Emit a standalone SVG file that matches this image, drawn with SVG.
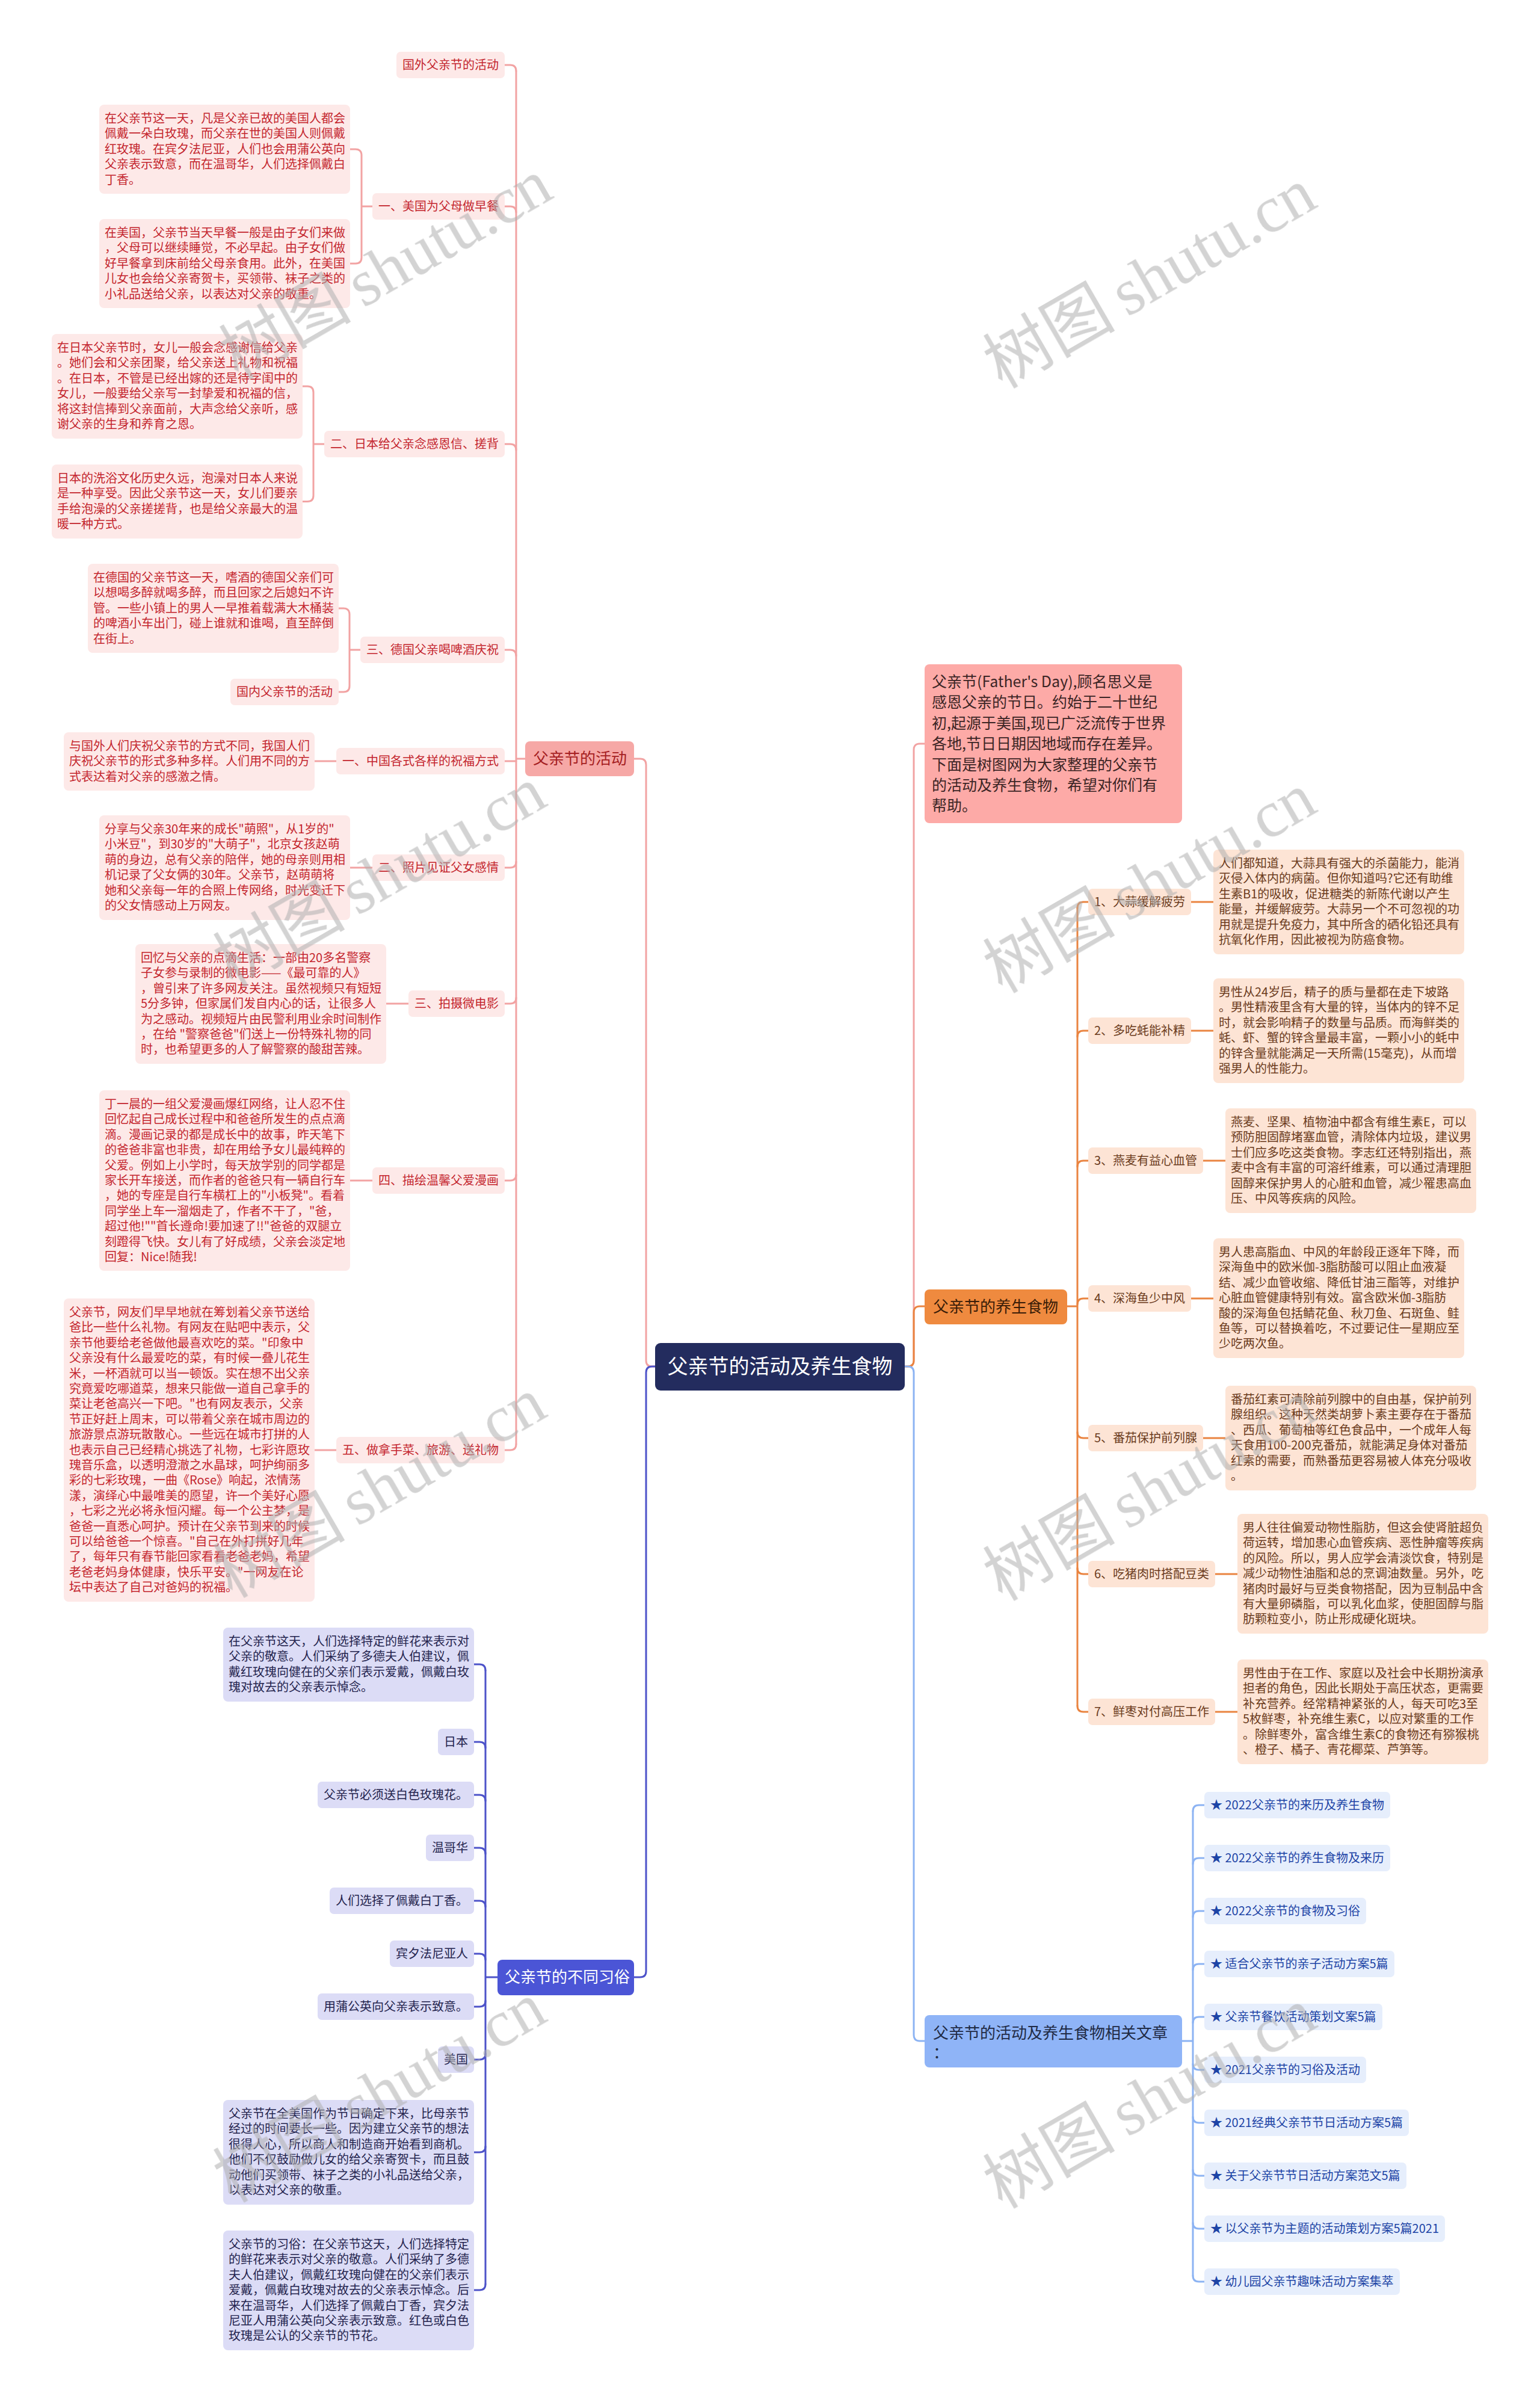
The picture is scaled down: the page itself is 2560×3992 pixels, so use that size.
<svg xmlns="http://www.w3.org/2000/svg" width="2560" height="3992" viewBox="0 0 2560 3992">
<style>
.t{font-family:"Noto Sans CJK SC","Noto Sans",sans-serif;font-size:20px}
.lr{fill:#c4262e}.rb{fill:#6b3b1c}.bl{fill:#24244e}.ar{fill:#1d44a6}
.pk{fill:#fde9e8}.pe{fill:#fde4d5}.lv{fill:#dcdcf6}.ab{fill:#e6eefc}
.c{fill:none;stroke-width:3;stroke-linecap:round}
.cp{stroke:#f2a3a3}.co{stroke:#ea8440}.cb{stroke:#4d53c9}.ca{stroke:#8cb3f3}
.m{font-family:"Noto Sans CJK SC","Noto Sans",sans-serif;font-size:26px}
.wm{font-size:110px;fill:#b0b0b0;opacity:0.55}
</style>
<rect width="2560" height="3992" fill="#ffffff"/>

<g id="connectors">
<!-- center to main -->
<path class="c cp" d="M1089 2271 H1084 Q1074 2271 1074 2261 V1271 Q1074 1261 1064 1261 H1054"/>
<path class="c cb" d="M1089 2271 H1084 Q1074 2271 1074 2281 V3276 Q1074 3286 1064 3286 H1054"/>
<path class="c cp" d="M1504 2271 H1509 Q1519 2271 1519 2261 V1246 Q1519 1236 1529 1236 H1537"/>
<path class="c co" d="M1504 2271 H1509 Q1519 2271 1519 2261 V2181 Q1519 2171 1529 2171 H1537"/>
<path class="c ca" d="M1504 2271 H1509 Q1519 2271 1519 2281 V3382 Q1519 3392 1529 3392 H1537"/>
<!-- left branch trunk -->
<path class="c cp" d="M873 1261 H858 M858 118 V2400"/>
<path class="c cp" d="M839 108 H848 Q858 108 858 118"/>
<path class="c cp" d="M839 343 H848 Q858 343 858 353"/>
<path class="c cp" d="M839 738 H848 Q858 738 858 748"/>
<path class="c cp" d="M839 1080 H848 Q858 1080 858 1090"/>
<path class="c cp" d="M839 1265 H858"/>
<path class="c cp" d="M839 1442 H848 Q858 1442 858 1432"/>
<path class="c cp" d="M839 1668 H848 Q858 1668 858 1658"/>
<path class="c cp" d="M839 1962 H848 Q858 1962 858 1952"/>
<path class="c cp" d="M839 2410 H848 Q858 2410 858 2400"/>
<!-- left leaves -->
<path class="c cp" d="M582 248 H591 Q601 248 601 258 V428 Q601 438 591 438 H582 M601 343 H619"/>
<path class="c cp" d="M503 642 H511 Q521 642 521 652 V823.5 Q521 833.5 511 833.5 H503 M521 738 H539"/>
<path class="c cp" d="M563 1011 H571 Q581 1011 581 1021 V1140 Q581 1150 571 1150 H563 M581 1080 H599"/>
<path class="c cp" d="M523 1265 H559"/>
<path class="c cp" d="M582 1442 H619"/>
<path class="c cp" d="M642 1668 H679"/>
<path class="c cp" d="M582 1962 H619"/>
<path class="c cp" d="M523 2410 H559"/>
<!-- food branch -->
<path class="c co" d="M1774 2171 H1791 M1791 1509 V2835"/>
<path class="c co" d="M1809 1499 H1801 Q1791 1499 1791 1509"/>
<path class="c co" d="M1809 1713 H1801 Q1791 1713 1791 1723"/>
<path class="c co" d="M1809 1929 H1801 Q1791 1929 1791 1939"/>
<path class="c co" d="M1809 2158 H1801 Q1791 2158 1791 2168"/>
<path class="c co" d="M1809 2390 H1801 Q1791 2390 1791 2380"/>
<path class="c co" d="M1809 2616 H1801 Q1791 2616 1791 2606"/>
<path class="c co" d="M1809 2845 H1801 Q1791 2845 1791 2835"/>
<path class="c co" d="M1980 1499 H2017 M1980 1713 H2017 M2000 1929 H2037 M1980 2158 H2017 M2000 2390 H2037 M2020 2616 H2057 M2020 2845 H2057"/>
<!-- articles branch -->
<path class="c ca" d="M1965 3392 H1983 M1983 3010 V3782"/>
<path class="c ca" d="M2002 3000 H1993 Q1983 3000 1983 3010"/>
<path class="c ca" d="M2002 3088 H1993 Q1983 3088 1983 3098"/>
<path class="c ca" d="M2002 3176 H1993 Q1983 3176 1983 3186"/>
<path class="c ca" d="M2002 3264 H1993 Q1983 3264 1983 3274"/>
<path class="c ca" d="M2002 3352 H1993 Q1983 3352 1983 3362"/>
<path class="c ca" d="M2002 3440 H1993 Q1983 3440 1983 3430"/>
<path class="c ca" d="M2002 3528 H1993 Q1983 3528 1983 3518"/>
<path class="c ca" d="M2002 3616 H1993 Q1983 3616 1983 3606"/>
<path class="c ca" d="M2002 3704 H1993 Q1983 3704 1983 3694"/>
<path class="c ca" d="M2002 3792 H1993 Q1983 3792 1983 3782"/>
<!-- customs branch -->
<path class="c cb" d="M827 3286 H807 M807 2776 V3796"/>
<path class="c cb" d="M788 2766 H797 Q807 2766 807 2776"/>
<path class="c cb" d="M788 2895 H797 Q807 2895 807 2905"/>
<path class="c cb" d="M788 2983 H797 Q807 2983 807 2993"/>
<path class="c cb" d="M788 3071 H797 Q807 3071 807 3081"/>
<path class="c cb" d="M788 3159 H797 Q807 3159 807 3169"/>
<path class="c cb" d="M788 3247 H797 Q807 3247 807 3257"/>
<path class="c cb" d="M788 3335 H797 Q807 3335 807 3325"/>
<path class="c cb" d="M788 3423 H797 Q807 3423 807 3413"/>
<path class="c cb" d="M788 3577 H797 Q807 3577 807 3567"/>
<path class="c cb" d="M788 3806 H797 Q807 3806 807 3796"/>
</g>

<!-- center -->
<g id="center">
<rect x="1089" y="2232" width="415" height="79" rx="9" fill="#232c5e"/>
<text x="1296.5" y="2283" text-anchor="middle" font-family="Noto Sans CJK SC, Noto Sans, sans-serif" font-size="34" fill="#ffffff">父亲节的活动及养生食物</text>
</g>

<!-- main nodes -->
<g id="main-activities">
<rect x="873" y="1232" width="181" height="58" rx="8" fill="#f6a8a6"/>
<text class="m" x="886" y="1270" fill="#a51e22">父亲节的活动</text>
</g>
<g id="main-customs">
<rect x="827" y="3257" width="227" height="59" rx="8" fill="#4b55d6"/>
<text class="m" x="839" y="3295" fill="#ffffff">父亲节的不同习俗</text>
</g>
<g id="main-intro">
<rect x="1537" y="1104" width="428" height="264" rx="8" fill="#fdaaa7"/>
<text x="1549" y="1142" font-family="Noto Sans CJK SC, Noto Sans, sans-serif" font-size="25" fill="#3b2525"><tspan x="1549">父亲节(Father's Day),顾名思义是</tspan><tspan x="1549" dy="34.4">感恩父亲的节日。约始于二十世纪</tspan><tspan x="1549" dy="34.4">初,起源于美国,现已广泛流传于世界</tspan><tspan x="1549" dy="34.4">各地,节日日期因地域而存在差异。</tspan><tspan x="1549" dy="34.4">下面是树图网为大家整理的父亲节</tspan><tspan x="1549" dy="34.4">的活动及养生食物，希望对你们有</tspan><tspan x="1549" dy="34.4">帮助。</tspan></text>
</g>
<g id="main-food">
<rect x="1537" y="2143" width="237" height="58" rx="8" fill="#ef8a3f"/>
<text class="m" x="1551" y="2181" fill="#3a1d08">父亲节的养生食物</text>
</g>
<g id="main-articles">
<rect x="1537" y="3349" width="428" height="87" rx="8" fill="#8fb4f7"/>
<text class="m" x="1551" y="3388" fill="#1f2a44"><tspan x="1551">父亲节的活动及养生食物相关文章</tspan><tspan x="1551" dy="33">：</tspan></text>
</g>

<!-- left branch level 2 -->
<g id="n-guowai"><rect class="pk" x="659" y="86" width="180" height="44" rx="7"/><text class="t lr" x="669" y="115">国外父亲节的活动</text></g>
<g id="n-meiguo"><rect class="pk" x="619" y="321" width="220" height="44" rx="7"/><text class="t lr" x="629" y="350">一、美国为父母做早餐</text></g>
<g id="n-riben"><rect class="pk" x="539" y="716" width="300" height="44" rx="7"/><text class="t lr" x="549" y="745">二、日本给父亲念感恩信、搓背</text></g>
<g id="n-deguo"><rect class="pk" x="599" y="1058" width="240" height="44" rx="7"/><text class="t lr" x="609" y="1087">三、德国父亲喝啤酒庆祝</text></g>
<g id="n-guonei"><rect class="pk" x="383" y="1128" width="180" height="44" rx="7"/><text class="t lr" x="393" y="1157">国内父亲节的活动</text></g>
<g id="n-zhongguo"><rect class="pk" x="559" y="1243" width="280" height="44" rx="7"/><text class="t lr" x="569" y="1272">一、中国各式各样的祝福方式</text></g>
<g id="n-zhaopian"><rect class="pk" x="619" y="1420" width="220" height="44" rx="7"/><text class="t lr" x="629" y="1449">二、照片见证父女感情</text></g>
<g id="n-paishe"><rect class="pk" x="679" y="1646" width="160" height="44" rx="7"/><text class="t lr" x="689" y="1675">三、拍摄微电影</text></g>
<g id="n-manhua"><rect class="pk" x="619" y="1940" width="220" height="44" rx="7"/><text class="t lr" x="629" y="1969">四、描绘温馨父爱漫画</text></g>
<g id="n-nashou"><rect class="pk" x="559" y="2388" width="280" height="44" rx="7"/><text class="t lr" x="569" y="2417">五、做拿手菜、旅游、送礼物</text></g>

<!-- left leaves -->
<g id="l-meiguo-a"><rect class="pk" x="165" y="174" width="417" height="148" rx="8"/>
<text class="t lr" x="174" y="204"><tspan x="174">在父亲节这一天，凡是父亲已故的美国人都会</tspan><tspan x="174" dy="25.4">佩戴一朵白玫瑰，而父亲在世的美国人则佩戴</tspan><tspan x="174" dy="25.4">红玫瑰。在宾夕法尼亚，人们也会用蒲公英向</tspan><tspan x="174" dy="25.4">父亲表示致意，而在温哥华，人们选择佩戴白</tspan><tspan x="174" dy="25.4">丁香。</tspan></text></g>
<g id="l-meiguo-b"><rect class="pk" x="165" y="364" width="417" height="148" rx="8"/>
<text class="t lr" x="174" y="394"><tspan x="174">在美国，父亲节当天早餐一般是由子女们来做</tspan><tspan x="174" dy="25.4">，父母可以继续睡觉，不必早起。由子女们做</tspan><tspan x="174" dy="25.4">好早餐拿到床前给父母亲食用。此外，在美国</tspan><tspan x="174" dy="25.4">儿女也会给父亲寄贺卡，买领带、袜子之类的</tspan><tspan x="174" dy="25.4">小礼品送给父亲，以表达对父亲的敬重。</tspan></text></g>
<g id="l-riben-a"><rect class="pk" x="86" y="555" width="417" height="174" rx="8"/>
<text class="t lr" x="95" y="585"><tspan x="95">在日本父亲节时，女儿一般会念感谢信给父亲</tspan><tspan x="95" dy="25.4">。她们会和父亲团聚，给父亲送上礼物和祝福</tspan><tspan x="95" dy="25.4">。在日本，不管是已经出嫁的还是待字闺中的</tspan><tspan x="95" dy="25.4">女儿，一般要给父亲写一封挚爱和祝福的信，</tspan><tspan x="95" dy="25.4">将这封信捧到父亲面前，大声念给父亲听，感</tspan><tspan x="95" dy="25.4">谢父亲的生身和养育之恩。</tspan></text></g>
<g id="l-riben-b"><rect class="pk" x="86" y="772" width="417" height="123" rx="8"/>
<text class="t lr" x="95" y="802"><tspan x="95">日本的洗浴文化历史久远，泡澡对日本人来说</tspan><tspan x="95" dy="25.4">是一种享受。因此父亲节这一天，女儿们要亲</tspan><tspan x="95" dy="25.4">手给泡澡的父亲搓搓背，也是给父亲最大的温</tspan><tspan x="95" dy="25.4">暖一种方式。</tspan></text></g>
<g id="l-deguo"><rect class="pk" x="146" y="937" width="417" height="148" rx="8"/>
<text class="t lr" x="155" y="967"><tspan x="155">在德国的父亲节这一天，嗜酒的德国父亲们可</tspan><tspan x="155" dy="25.4">以想喝多醉就喝多醉，而且回家之后媳妇不许</tspan><tspan x="155" dy="25.4">管。一些小镇上的男人一早推着载满大木桶装</tspan><tspan x="155" dy="25.4">的啤酒小车出门，碰上谁就和谁喝，直至醉倒</tspan><tspan x="155" dy="25.4">在街上。</tspan></text></g>
<g id="l-zhongguo"><rect class="pk" x="106" y="1217" width="417" height="97" rx="8"/>
<text class="t lr" x="115" y="1247"><tspan x="115">与国外人们庆祝父亲节的方式不同，我国人们</tspan><tspan x="115" dy="25.4">庆祝父亲节的形式多种多样。人们用不同的方</tspan><tspan x="115" dy="25.4">式表达着对父亲的感激之情。</tspan></text></g>
<g id="l-zhaopian"><rect class="pk" x="165" y="1355" width="417" height="174" rx="8"/>
<text class="t lr" x="174" y="1385"><tspan x="174">分享与父亲30年来的成长"萌照"，从1岁的"</tspan><tspan x="174" dy="25.4">小米豆"，到30岁的"大萌子"，北京女孩赵萌</tspan><tspan x="174" dy="25.4">萌的身边，总有父亲的陪伴，她的母亲则用相</tspan><tspan x="174" dy="25.4">机记录了父女俩的30年。父亲节，赵萌萌将</tspan><tspan x="174" dy="25.4">她和父亲每一年的合照上传网络，时光变迁下</tspan><tspan x="174" dy="25.4">的父女情感动上万网友。</tspan></text></g>
<g id="l-paishe"><rect class="pk" x="225" y="1569" width="417" height="199" rx="8"/>
<text class="t lr" x="234" y="1599"><tspan x="234">回忆与父亲的点滴生活：一部由20多名警察</tspan><tspan x="234" dy="25.4">子女参与录制的微电影——《最可靠的人》</tspan><tspan x="234" dy="25.4">，曾引来了许多网友关注。虽然视频只有短短</tspan><tspan x="234" dy="25.4">5分多钟，但家属们发自内心的话，让很多人</tspan><tspan x="234" dy="25.4">为之感动。视频短片由民警利用业余时间制作</tspan><tspan x="234" dy="25.4">，在给 "警察爸爸"们送上一份特殊礼物的同</tspan><tspan x="234" dy="25.4">时，也希望更多的人了解警察的酸甜苦辣。</tspan></text></g>
<g id="l-manhua"><rect class="pk" x="165" y="1812" width="417" height="300" rx="8"/>
<text class="t lr" x="174" y="1842"><tspan x="174">丁一晨的一组父爱漫画爆红网络，让人忍不住</tspan><tspan x="174" dy="25.4">回忆起自己成长过程中和爸爸所发生的点点滴</tspan><tspan x="174" dy="25.4">滴。漫画记录的都是成长中的故事，昨天笔下</tspan><tspan x="174" dy="25.4">的爸爸非富也非贵，却在用给予女儿最纯粹的</tspan><tspan x="174" dy="25.4">父爱。例如上小学时，每天放学别的同学都是</tspan><tspan x="174" dy="25.4">家长开车接送，而作者的爸爸只有一辆自行车</tspan><tspan x="174" dy="25.4">，她的专座是自行车横杠上的"小板凳"。看着</tspan><tspan x="174" dy="25.4">同学坐上车一溜烟走了，作者不干了，"爸，</tspan><tspan x="174" dy="25.4">超过他!""首长遵命!要加速了!!"爸爸的双腿立</tspan><tspan x="174" dy="25.4">刻蹬得飞快。女儿有了好成绩，父亲会淡定地</tspan><tspan x="174" dy="25.4">回复：Nice!随我!</tspan></text></g>
<g id="l-nashou"><rect class="pk" x="106" y="2158" width="417" height="504" rx="8"/>
<text class="t lr" x="115" y="2188"><tspan x="115">父亲节，网友们早早地就在筹划着父亲节送给</tspan><tspan x="115" dy="25.4">爸比一些什么礼物。有网友在贴吧中表示，父</tspan><tspan x="115" dy="25.4">亲节他要给老爸做他最喜欢吃的菜。"印象中</tspan><tspan x="115" dy="25.4">父亲没有什么最爱吃的菜，有时候一叠儿花生</tspan><tspan x="115" dy="25.4">米，一杯酒就可以当一顿饭。实在想不出父亲</tspan><tspan x="115" dy="25.4">究竟爱吃哪道菜，想来只能做一道自己拿手的</tspan><tspan x="115" dy="25.4">菜让老爸高兴一下吧。"也有网友表示，父亲</tspan><tspan x="115" dy="25.4">节正好赶上周末，可以带着父亲在城市周边的</tspan><tspan x="115" dy="25.4">旅游景点游玩散散心。一些远在城市打拼的人</tspan><tspan x="115" dy="25.4">也表示自己已经精心挑选了礼物，七彩许愿玫</tspan><tspan x="115" dy="25.4">瑰音乐盒，以透明澄澈之水晶球，呵护绚丽多</tspan><tspan x="115" dy="25.4">彩的七彩玫瑰，一曲《Rose》响起，浓情荡</tspan><tspan x="115" dy="25.4">漾，演绎心中最唯美的愿望，许一个美好心愿</tspan><tspan x="115" dy="25.4">，七彩之光必将永恒闪耀。每一个公主梦，是</tspan><tspan x="115" dy="25.4">爸爸一直悉心呵护。预计在父亲节到来的时候</tspan><tspan x="115" dy="25.4">可以给爸爸一个惊喜。"自己在外打拼好几年</tspan><tspan x="115" dy="25.4">了，每年只有春节能回家看看老爸老妈，希望</tspan><tspan x="115" dy="25.4">老爸老妈身体健康，快乐平安。"一网友在论</tspan><tspan x="115" dy="25.4">坛中表达了自己对爸妈的祝福。</tspan></text></g>

<!-- food branch -->
<g id="f1"><rect class="pe" x="1809" y="1477" width="171" height="44" rx="7"/><text class="t rb" x="1819" y="1506">1、大蒜缓解疲劳</text></g>
<g id="f2"><rect class="pe" x="1809" y="1691" width="171" height="44" rx="7"/><text class="t rb" x="1819" y="1720">2、多吃蚝能补精</text></g>
<g id="f3"><rect class="pe" x="1809" y="1907" width="191" height="44" rx="7"/><text class="t rb" x="1819" y="1936">3、燕麦有益心血管</text></g>
<g id="f4"><rect class="pe" x="1809" y="2136" width="171" height="44" rx="7"/><text class="t rb" x="1819" y="2165">4、深海鱼少中风</text></g>
<g id="f5"><rect class="pe" x="1809" y="2368" width="191" height="44" rx="7"/><text class="t rb" x="1819" y="2397">5、番茄保护前列腺</text></g>
<g id="f6"><rect class="pe" x="1809" y="2594" width="211" height="44" rx="7"/><text class="t rb" x="1819" y="2623">6、吃猪肉时搭配豆类</text></g>
<g id="f7"><rect class="pe" x="1809" y="2823" width="211" height="44" rx="7"/><text class="t rb" x="1819" y="2852">7、鲜枣对付高压工作</text></g>

<g id="f1-t"><rect class="pe" x="2017" y="1412" width="417" height="174" rx="8"/>
<text class="t rb" x="2026" y="1442"><tspan x="2026">人们都知道，大蒜具有强大的杀菌能力，能消</tspan><tspan x="2026" dy="25.4">灭侵入体内的病菌。但你知道吗?它还有助维</tspan><tspan x="2026" dy="25.4">生素B1的吸收，促进糖类的新陈代谢以产生</tspan><tspan x="2026" dy="25.4">能量，并缓解疲劳。大蒜另一个不可忽视的功</tspan><tspan x="2026" dy="25.4">用就是提升免疫力，其中所含的硒化铅还具有</tspan><tspan x="2026" dy="25.4">抗氧化作用，因此被视为防癌食物。</tspan></text></g>
<g id="f2-t"><rect class="pe" x="2017" y="1626" width="417" height="174" rx="8"/>
<text class="t rb" x="2026" y="1656"><tspan x="2026">男性从24岁后，精子的质与量都在走下坡路</tspan><tspan x="2026" dy="25.4">。男性精液里含有大量的锌，当体内的锌不足</tspan><tspan x="2026" dy="25.4">时，就会影响精子的数量与品质。而海鲜类的</tspan><tspan x="2026" dy="25.4">蚝、虾、蟹的锌含量最丰富，一颗小小的蚝中</tspan><tspan x="2026" dy="25.4">的锌含量就能满足一天所需(15毫克)，从而增</tspan><tspan x="2026" dy="25.4">强男人的性能力。</tspan></text></g>
<g id="f3-t"><rect class="pe" x="2037" y="1842" width="417" height="174" rx="8"/>
<text class="t rb" x="2046" y="1872"><tspan x="2046">燕麦、坚果、植物油中都含有维生素E，可以</tspan><tspan x="2046" dy="25.4">预防胆固醇堵塞血管，清除体内垃圾，建议男</tspan><tspan x="2046" dy="25.4">士们应多吃这类食物。李志红还特别指出，燕</tspan><tspan x="2046" dy="25.4">麦中含有丰富的可溶纤维素，可以通过清理胆</tspan><tspan x="2046" dy="25.4">固醇来保护男人的心脏和血管，减少罹患高血</tspan><tspan x="2046" dy="25.4">压、中风等疾病的风险。</tspan></text></g>
<g id="f4-t"><rect class="pe" x="2017" y="2058" width="417" height="199" rx="8"/>
<text class="t rb" x="2026" y="2088"><tspan x="2026">男人患高脂血、中风的年龄段正逐年下降，而</tspan><tspan x="2026" dy="25.4">深海鱼中的欧米伽-3脂肪酸可以阻止血液凝</tspan><tspan x="2026" dy="25.4">结、减少血管收缩、降低甘油三酯等，对维护</tspan><tspan x="2026" dy="25.4">心脏血管健康特别有效。富含欧米伽-3脂肪</tspan><tspan x="2026" dy="25.4">酸的深海鱼包括鲭花鱼、秋刀鱼、石斑鱼、鲑</tspan><tspan x="2026" dy="25.4">鱼等，可以替换着吃，不过要记住一星期应至</tspan><tspan x="2026" dy="25.4">少吃两次鱼。</tspan></text></g>
<g id="f5-t"><rect class="pe" x="2037" y="2303" width="417" height="174" rx="8"/>
<text class="t rb" x="2046" y="2333"><tspan x="2046">番茄红素可清除前列腺中的自由基，保护前列</tspan><tspan x="2046" dy="25.4">腺组织。这种天然类胡萝卜素主要存在于番茄</tspan><tspan x="2046" dy="25.4">、西瓜、葡萄柚等红色食品中，一个成年人每</tspan><tspan x="2046" dy="25.4">天食用100-200克番茄，就能满足身体对番茄</tspan><tspan x="2046" dy="25.4">红素的需要，而熟番茄更容易被人体充分吸收</tspan><tspan x="2046" dy="25.4">。</tspan></text></g>
<g id="f6-t"><rect class="pe" x="2057" y="2516" width="417" height="199" rx="8"/>
<text class="t rb" x="2066" y="2546"><tspan x="2066">男人往往偏爱动物性脂肪，但这会使肾脏超负</tspan><tspan x="2066" dy="25.4">荷运转，增加患心血管疾病、恶性肿瘤等疾病</tspan><tspan x="2066" dy="25.4">的风险。所以，男人应学会清淡饮食，特别是</tspan><tspan x="2066" dy="25.4">减少动物性油脂和总的烹调油数量。另外，吃</tspan><tspan x="2066" dy="25.4">猪肉时最好与豆类食物搭配，因为豆制品中含</tspan><tspan x="2066" dy="25.4">有大量卵磷脂，可以乳化血浆，使胆固醇与脂</tspan><tspan x="2066" dy="25.4">肪颗粒变小，防止形成硬化斑块。</tspan></text></g>
<g id="f7-t"><rect class="pe" x="2057" y="2758" width="417" height="174" rx="8"/>
<text class="t rb" x="2066" y="2788"><tspan x="2066">男性由于在工作、家庭以及社会中长期扮演承</tspan><tspan x="2066" dy="25.4">担者的角色，因此长期处于高压状态，更需要</tspan><tspan x="2066" dy="25.4">补充营养。经常精神紧张的人，每天可吃3至</tspan><tspan x="2066" dy="25.4">5枚鲜枣，补充维生素C，以应对繁重的工作</tspan><tspan x="2066" dy="25.4">。除鲜枣外，富含维生素C的食物还有猕猴桃</tspan><tspan x="2066" dy="25.4">、橙子、橘子、青花椰菜、芦笋等。</tspan></text></g>

<!-- articles -->
<g id="a1"><rect class="ab" x="2002" y="2978" width="309" height="44" rx="7"/><text class="t ar" x="2012" y="3007">★ 2022父亲节的来历及养生食物</text></g>
<g id="a2"><rect class="ab" x="2002" y="3066" width="309" height="44" rx="7"/><text class="t ar" x="2012" y="3095">★ 2022父亲节的养生食物及来历</text></g>
<g id="a3"><rect class="ab" x="2002" y="3154" width="269" height="44" rx="7"/><text class="t ar" x="2012" y="3183">★ 2022父亲节的食物及习俗</text></g>
<g id="a4"><rect class="ab" x="2002" y="3242" width="316" height="44" rx="7"/><text class="t ar" x="2012" y="3271">★ 适合父亲节的亲子活动方案5篇</text></g>
<g id="a5"><rect class="ab" x="2002" y="3330" width="296" height="44" rx="7"/><text class="t ar" x="2012" y="3359">★ 父亲节餐饮活动策划文案5篇</text></g>
<g id="a6"><rect class="ab" x="2002" y="3418" width="269" height="44" rx="7"/><text class="t ar" x="2012" y="3447">★ 2021父亲节的习俗及活动</text></g>
<g id="a7"><rect class="ab" x="2002" y="3506" width="340" height="44" rx="7"/><text class="t ar" x="2012" y="3535">★ 2021经典父亲节节日活动方案5篇</text></g>
<g id="a8"><rect class="ab" x="2002" y="3594" width="336" height="44" rx="7"/><text class="t ar" x="2012" y="3623">★ 关于父亲节节日活动方案范文5篇</text></g>
<g id="a9"><rect class="ab" x="2002" y="3682" width="400" height="44" rx="7"/><text class="t ar" x="2012" y="3711">★ 以父亲节为主题的活动策划方案5篇2021</text></g>
<g id="a10"><rect class="ab" x="2002" y="3770" width="325" height="44" rx="7"/><text class="t ar" x="2012" y="3799">★ 幼儿园父亲节趣味活动方案集萃</text></g>

<!-- customs branch -->
<g id="c1"><rect class="lv" x="371" y="2705" width="417" height="123" rx="8"/>
<text class="t bl" x="380" y="2735"><tspan x="380">在父亲节这天，人们选择特定的鲜花来表示对</tspan><tspan x="380" dy="25.4">父亲的敬意。人们采纳了多德夫人伯建议，佩</tspan><tspan x="380" dy="25.4">戴红玫瑰向健在的父亲们表示爱戴，佩戴白玫</tspan><tspan x="380" dy="25.4">瑰对故去的父亲表示悼念。</tspan></text></g>
<g id="c2"><rect class="lv" x="728" y="2873" width="60" height="44" rx="7"/><text class="t bl" x="738" y="2902">日本</text></g>
<g id="c3"><rect class="lv" x="528" y="2961" width="260" height="44" rx="7"/><text class="t bl" x="538" y="2990">父亲节必须送白色玫瑰花。</text></g>
<g id="c4"><rect class="lv" x="708" y="3049" width="80" height="44" rx="7"/><text class="t bl" x="718" y="3078">温哥华</text></g>
<g id="c5"><rect class="lv" x="548" y="3137" width="240" height="44" rx="7"/><text class="t bl" x="558" y="3166">人们选择了佩戴白丁香。</text></g>
<g id="c6"><rect class="lv" x="648" y="3225" width="140" height="44" rx="7"/><text class="t bl" x="658" y="3254">宾夕法尼亚人</text></g>
<g id="c7"><rect class="lv" x="528" y="3313" width="260" height="44" rx="7"/><text class="t bl" x="538" y="3342">用蒲公英向父亲表示致意。</text></g>
<g id="c8"><rect class="lv" x="728" y="3401" width="60" height="44" rx="7"/><text class="t bl" x="738" y="3430">美国</text></g>
<g id="c9"><rect class="lv" x="371" y="3490" width="417" height="174" rx="8"/>
<text class="t bl" x="380" y="3520"><tspan x="380">父亲节在全美国作为节日确定下来，比母亲节</tspan><tspan x="380" dy="25.4">经过的时间要长一些。因为建立父亲节的想法</tspan><tspan x="380" dy="25.4">很得人心，所以商人和制造商开始看到商机。</tspan><tspan x="380" dy="25.4">他们不仅鼓励做儿女的给父亲寄贺卡，而且鼓</tspan><tspan x="380" dy="25.4">动他们买领带、袜子之类的小礼品送给父亲，</tspan><tspan x="380" dy="25.4">以表达对父亲的敬重。</tspan></text></g>
<g id="c10"><rect class="lv" x="371" y="3707" width="417" height="199" rx="8"/>
<text class="t bl" x="380" y="3737"><tspan x="380">父亲节的习俗：在父亲节这天，人们选择特定</tspan><tspan x="380" dy="25.4">的鲜花来表示对父亲的敬意。人们采纳了多德</tspan><tspan x="380" dy="25.4">夫人伯建议，佩戴红玫瑰向健在的父亲们表示</tspan><tspan x="380" dy="25.4">爱戴，佩戴白玫瑰对故去的父亲表示悼念。后</tspan><tspan x="380" dy="25.4">来在温哥华，人们选择了佩戴白丁香，宾夕法</tspan><tspan x="380" dy="25.4">尼亚人用蒲公英向父亲表示致意。红色或白色</tspan><tspan x="380" dy="25.4">玫瑰是公认的父亲节的节花。</tspan></text></g>

<!-- watermarks -->
<g id="watermarks" class="wm" text-anchor="middle">
<text transform="translate(660,480) rotate(-30)"><tspan font-family="Noto Sans CJK SC, sans-serif">树图</tspan><tspan font-family="Liberation Serif, serif" dx="20">shutu.cn</tspan></text>
<text transform="translate(1930,495) rotate(-30)"><tspan font-family="Noto Sans CJK SC, sans-serif">树图</tspan><tspan font-family="Liberation Serif, serif" dx="20">shutu.cn</tspan></text>
<text transform="translate(650,1490) rotate(-30)"><tspan font-family="Noto Sans CJK SC, sans-serif">树图</tspan><tspan font-family="Liberation Serif, serif" dx="20">shutu.cn</tspan></text>
<text transform="translate(1930,1500) rotate(-30)"><tspan font-family="Noto Sans CJK SC, sans-serif">树图</tspan><tspan font-family="Liberation Serif, serif" dx="20">shutu.cn</tspan></text>
<text transform="translate(650,2505) rotate(-30)"><tspan font-family="Noto Sans CJK SC, sans-serif">树图</tspan><tspan font-family="Liberation Serif, serif" dx="20">shutu.cn</tspan></text>
<text transform="translate(1930,2510) rotate(-30)"><tspan font-family="Noto Sans CJK SC, sans-serif">树图</tspan><tspan font-family="Liberation Serif, serif" dx="20">shutu.cn</tspan></text>
<text transform="translate(650,3510) rotate(-30)"><tspan font-family="Noto Sans CJK SC, sans-serif">树图</tspan><tspan font-family="Liberation Serif, serif" dx="20">shutu.cn</tspan></text>
<text transform="translate(1930,3520) rotate(-30)"><tspan font-family="Noto Sans CJK SC, sans-serif">树图</tspan><tspan font-family="Liberation Serif, serif" dx="20">shutu.cn</tspan></text>
</g>
</svg>
